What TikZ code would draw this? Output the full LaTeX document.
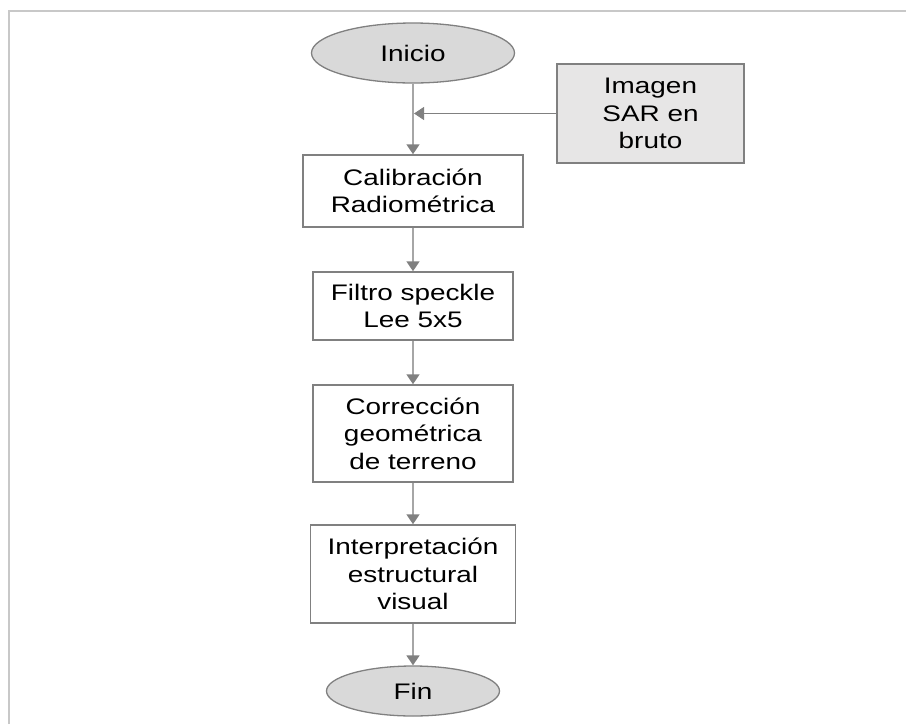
\documentclass[tikz,border=0pt]{standalone}
\usepackage{fontspec}
\setmainfont{Liberation Sans}[FakeStretch=1.24]
\usetikzlibrary{shapes.geometric,arrows.meta}
\definecolor{edge}{HTML}{808080}
\definecolor{lineg}{HTML}{A6A6A6}
\definecolor{fillA}{HTML}{D9D9D9}
\definecolor{fillB}{HTML}{E7E6E6}
\definecolor{frameg}{HTML}{C8C8C8}
\tikzset{
  txt/.style={font=\fontsize{22.5}{27.5}\selectfont, text=black, align=center, inner sep=0pt},
  term/.style={txt, ellipse, draw=edge, line width=1.3pt, fill=fillA},
  procbox/.style={txt, rectangle, draw=edge, line width=1.5pt, fill=white},
  inbox/.style={txt, rectangle, draw=edge, line width=1.5pt, fill=fillB},
  flow/.style={draw=lineg, line width=1.6pt, -{Triangle[width=13pt,length=10pt,color=edge,fill=edge]}},
  side/.style={draw=edge, line width=1pt, -{Triangle[width=13pt,length=10pt,color=edge,fill=edge]}}
}
\begin{document}
\begin{tikzpicture}[x=1pt,y=-1pt]
\useasboundingbox (0,0) rectangle (906,724);
\draw[frameg, line width=2pt] (9,724) -- (9,11) -- (906,11);
\node[term, minimum width=203pt, minimum height=60pt] (inicio) at (413,53) {Inicio};
\node[inbox, minimum width=187pt, minimum height=99pt] (imagen) at (650.5,113.5) {Imagen\\SAR en\\bruto};
\node[procbox, minimum width=220pt, minimum height=72pt] (calib) at (413,191) {Calibración\\Radiométrica};
\node[procbox, minimum width=200pt, minimum height=68pt] (filtro) at (413,306) {Filtro speckle\\Lee 5x5};
\node[procbox, minimum width=200pt, minimum height=97pt] (correc) at (413,433.5) {Corrección\\geométrica\\de terreno};
\node[procbox, minimum width=205pt, minimum height=98pt] (interp) at (413,574) {Interpretación\\estructural\\visual};
\node[term, minimum width=173pt, minimum height=50pt] (fin) at (413,691) {Fin};
\coordinate (join) at (imagen.west -| inicio.south);
\draw[flow] (inicio) -- (calib);
\draw[side] (imagen.west) -- ([xshift=1pt]join);
\draw[flow] (calib) -- (filtro);
\draw[flow] (filtro) -- (correc);
\draw[flow] (correc) -- (interp);
\draw[flow] (interp) -- (fin);
\end{tikzpicture}
\end{document}
